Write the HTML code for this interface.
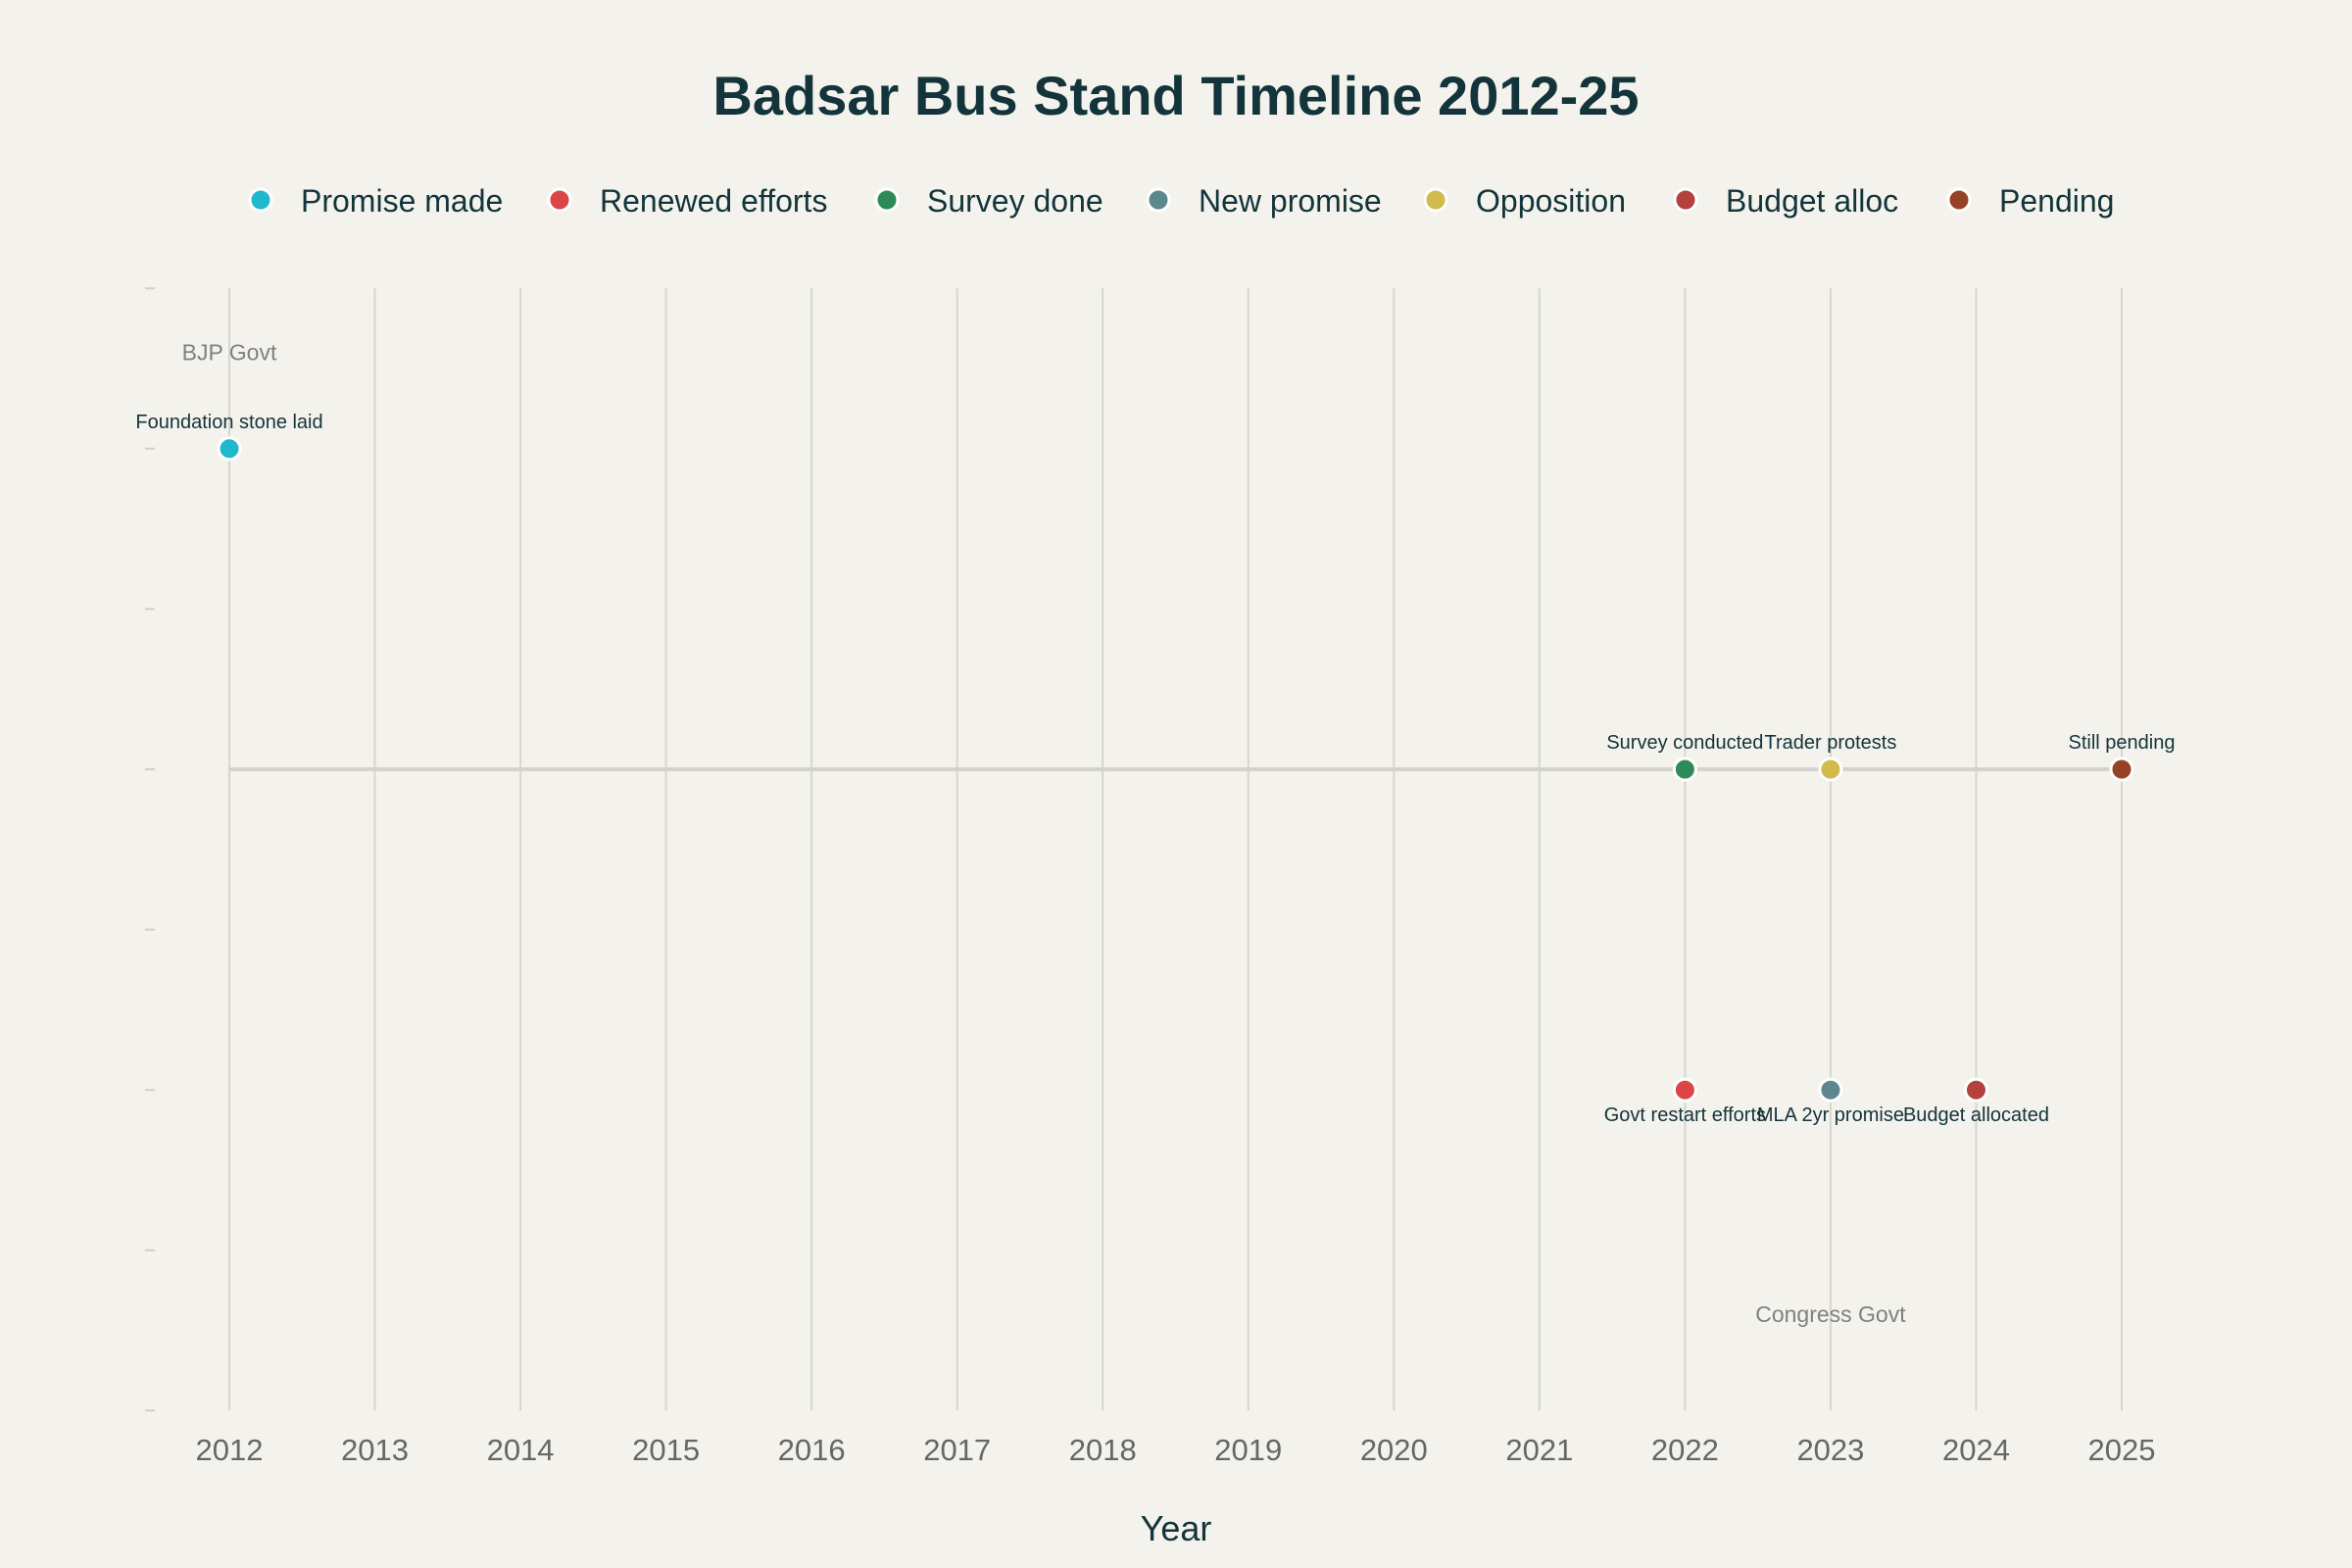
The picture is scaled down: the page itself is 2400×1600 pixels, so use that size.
<!DOCTYPE html>
<html><head><meta charset="utf-8"><style>
html,body{margin:0;padding:0;background:#f3f2ec;}
svg{display:block;font-family:"Liberation Sans",sans-serif;}
</style></head><body>
<svg id="chart" width="2400" height="1600" viewBox="0 0 2400 1600">
<rect width="2400" height="1600" fill="#f3f2ec"/>
<text x="1200" y="117" text-anchor="middle" font-size="56" font-weight="bold" fill="#13343b">Badsar Bus Stand Timeline 2012-25</text>
<g id="legend"></g>
<g id="grid"></g>
<g id="yticks"></g>
<g id="xticks"></g>
<g id="marks"></g>
<text x="1200" y="1572" text-anchor="middle" font-size="36" fill="#13343b">Year</text>
</svg>
<script>
const years = [2012,2013,2014,2015,2016,2017,2018,2019,2020,2021,2022,2023,2024,2025];
const yTicks = [3,2,1,0,-1,-2,-3,-4];
const eventYears = [2012,2022,2022,2023,2023,2024,2025];
const eventLevels = [2,-2,0,-2,0,-2,0];
const eventLabels = ["Foundation stone laid","Govt restart efforts","Survey conducted","MLA 2yr promise","Trader protests","Budget allocated","Still pending"];
const categories = ["Promise made","Renewed efforts","Survey done","New promise","Opposition","Budget alloc","Pending"];
const colors = ["#1fb8cd","#db4545","#2e8b57","#5d878f","#d2ba4c","#b4413c","#964325"];
const legendX = [266,571,905,1182,1465,1720,1999];
const eras = ["BJP Govt","Congress Govt"];
const eraYears = [2012,2023];
const eraLevels = [2.6,-3.4];

const NS="http://www.w3.org/2000/svg";
function x(v){return 234+(v-2012)*(2165-234)/13;}
function y(v){return 785-v*163.6;}
function mk(t,a,p){const e=document.createElementNS(NS,t);for(const k in a)e.setAttribute(k,a[k]);p.appendChild(e);return e;}

const lg=document.getElementById('legend');
categories.forEach((c,i)=>{
  const d=mk('circle',{cx:legendX[i],cy:204,r:11,fill:colors[i],stroke:'#fff','stroke-width':3},lg);
  
  
  const t=mk('text',{x:legendX[i]+41,y:216,'font-size':32,fill:'#13343b'},lg);
  t.textContent=c;
  
  
});

const g=document.getElementById('grid');
years.forEach(yr=>{
  const l=mk('line',{x1:x(yr),x2:x(yr),y1:y(3),y2:y(-4),stroke:'#d6d5d0','stroke-width':2},g);
  
  
});
const z=mk('line',{x1:x(2012),x2:x(2025),y1:y(0),y2:y(0),stroke:'#d3d2cd','stroke-width':4},g);



const yt=document.getElementById('yticks');
yTicks.forEach(v=>{
  const l=mk('line',{x1:148,x2:158,y1:y(v),y2:y(v),stroke:'#d0cfca','stroke-width':2},yt);
  
  
});

const xt=document.getElementById('xticks');
years.forEach(yr=>{
  const t=mk('text',{x:x(yr),y:1490,'text-anchor':'middle','font-size':31,fill:'#666'},xt);
  t.textContent=yr;
  
  
});

const m=document.getElementById('marks');
eras.forEach((e,i)=>{
  const t=mk('text',{x:x(eraYears[i]),y:y(eraLevels[i])+8,'text-anchor':'middle','font-size':23,fill:'#808080'},m);
  t.textContent=e;
  
  
});
eventYears.forEach((yr,i)=>{
  const cx=x(yr),cy=y(eventLevels[i]);
  const c=mk('circle',{cx:cx,cy:cy,r:11,fill:colors[i],stroke:'#fff','stroke-width':3},m);
  
  
  const below=eventLevels[i]<0;
  const t=mk('text',{x:cx,y:below?cy+32:cy-21,'text-anchor':'middle','font-size':20,fill:'#13343b'},m);
  t.textContent=eventLabels[i];
  
  
});
</script>
</body></html>
